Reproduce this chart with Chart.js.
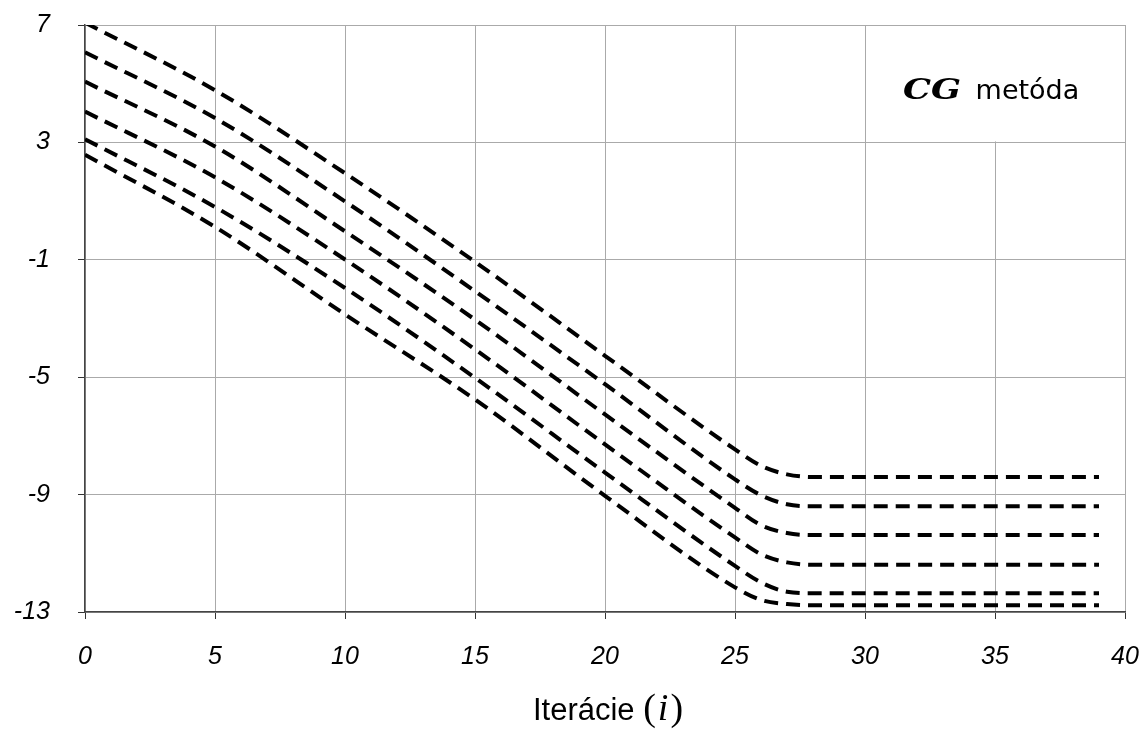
<!DOCTYPE html>
<html>
<head>
<meta charset="utf-8">
<script src="https://cdn.jsdelivr.net/npm/chart.js@4.4.1/dist/chart.umd.min.js"></script>
<style>
  body { margin: 0; background: #fff; }
  #wrap { width: 1143px; height: 731px; }
</style>
</head>
<body>
<div id="wrap"><canvas id="cgChart" width="1143" height="731"></canvas></div>
<script>
// iterácie, v ktorých sú odčítané hodnoty
const iterations = [0, 5, 10, 15, 20, 25, 26, 27, 28, 39];

// šesť kriviek (zhora nadol)
const line1 = [7.08, 4.78, 1.95, -1.07, -4.27, -7.46, -8.02, -8.31, -8.40, -8.40];
const line2 = [6.07, 3.83, 0.99, -2.07, -5.24, -8.48, -9.02, -9.33, -9.40, -9.40];
const line3 = [5.07, 2.86, -0.03, -3.04, -6.27, -9.45, -10.04, -10.31, -10.38, -10.38];
const line4 = [4.05, 1.81, -0.99, -4.05, -7.29, -10.46, -11.03, -11.31, -11.39, -11.39];
const line5 = [3.11, 0.80, -1.96, -5.02, -8.25, -11.43, -11.99, -12.31, -12.36, -12.36];
const line6 = [2.58, 0.12, -2.86, -5.76, -9.04, -12.16, -12.59, -12.73, -12.77, -12.77];

const xTicks = [0, 5, 10, 15, 20, 25, 30, 35, 40];
const yTicks = [-13, -9, -5, -1, 3, 7];

const legendLabel = ['CG', ' metóda'];
const axisTitle = ['Iterácie ', '(', 'i', ')'];

const allLines = [line1, line2, line3, line4, line5, line6];

const datasets = allLines.map(vals => ({
  data: vals.map((v, i) => ({ x: iterations[i], y: v })),
  borderColor: '#000',
  borderWidth: 4,
  borderDash: [14, 8],
  pointRadius: 0,
  fill: false,
  cubicInterpolationMode: 'monotone'
}));

// biely rámik s popisom metódy
const legendBox = {
  id: 'legendBox',
  beforeDatasetsDraw(chart) {
    const { ctx, scales: { x, y } } = chart;
    const left = x.getPixelForValue(30), right = x.getPixelForValue(40);
    const top = y.getPixelForValue(7), bottom = y.getPixelForValue(3);
    ctx.save();
    ctx.fillStyle = '#fff';
    ctx.fillRect(left + 1, top + 1, right - left - 2, bottom - top - 2);
    ctx.fillStyle = '#000';
    ctx.textBaseline = 'alphabetic';
    const base = top + 74;
    // CG - tučná kurzíva, rozšírená
    ctx.font = 'italic bold 28px "DejaVu Serif"';
    const wCG = ctx.measureText(legendLabel[0]).width;
    const sc = 58 / wCG;
    ctx.save();
    ctx.translate(left + 38, base);
    ctx.scale(sc, 1);
    ctx.fillText(legendLabel[0], 0, 0);
    ctx.restore();
    ctx.font = '27px "DejaVu Sans"';
    ctx.fillText(legendLabel[1], left + 38 + 58 + 6, base);
    ctx.restore();
  }
};

// popis osi x so zmiešaným písmom
const xTitle = {
  id: 'xTitle',
  afterDraw(chart) {
    const { ctx, chartArea } = chart;
    const parts = [
      { t: axisTitle[0], f: '31px "Liberation Sans"', gap: 0 },
      { t: axisTitle[1], f: '38px "Liberation Serif"', gap: 2 },
      { t: axisTitle[2], f: 'italic 38px "Liberation Serif"', gap: 2 },
      { t: axisTitle[3], f: '38px "Liberation Serif"', gap: 0 }
    ];
    ctx.save();
    let total = 0;
    parts.forEach(p => { ctx.font = p.f; p.w = ctx.measureText(p.t).width + p.gap; total += p.w; });
    let sx = (chartArea.left + chartArea.right) / 2 + 3 - total / 2;
    ctx.fillStyle = '#000';
    ctx.textBaseline = 'alphabetic';
    parts.forEach(p => { ctx.font = p.f; ctx.fillText(p.t, sx, 720); sx += p.w; });
    ctx.restore();
  }
};

new Chart(document.getElementById('cgChart').getContext('2d'), {
  type: 'line',
  data: { datasets },
  options: {
    responsive: false,
    animation: false,
    layout: { padding: { left: 0, top: 25, right: 18, bottom: 57 } },
    plugins: { legend: { display: false }, tooltip: { enabled: false } },
    scales: {
      x: {
        type: 'linear',
        min: 0,
        max: 40,
        afterBuildTicks: axis => { axis.ticks = xTicks.map(v => ({ value: v })); },
        afterFit: axis => { axis.height = 62; axis.paddingLeft = 0; axis.paddingRight = 0; },
        ticks: {
          color: '#000',
          padding: 23,
          maxRotation: 0,
          font: { family: '"Liberation Sans"', size: 25, style: 'italic' }
        },
        grid: { color: '#aaa', lineWidth: 1, tickColor: '#333', tickLength: 7 },
        border: { color: '#444', width: 1.5 }
      },
      y: {
        type: 'linear',
        min: -13,
        max: 7,
        afterBuildTicks: axis => { axis.ticks = yTicks.map(v => ({ value: v })); },
        afterFit: axis => { axis.width = 85; axis.paddingTop = 0; axis.paddingBottom = 0; },
        ticks: {
          color: '#000',
          padding: 28,
          font: { family: '"Liberation Sans"', size: 25, style: 'italic' }
        },
        grid: { color: '#aaa', lineWidth: 1, tickColor: '#333', tickLength: 7 },
        border: { color: '#444', width: 1.5 }
      }
    }
  },
  plugins: [legendBox, xTitle]
});
</script>
</body>
</html>
